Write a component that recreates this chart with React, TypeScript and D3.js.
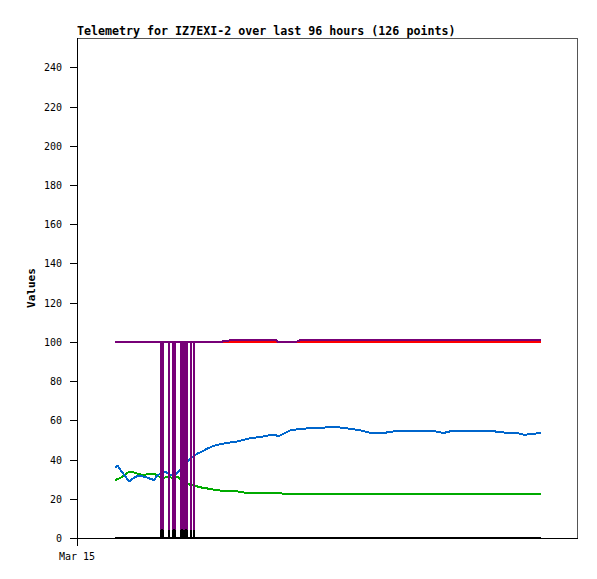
import React from "react";
import * as d3 from "d3";

// time of each telemetry packet, hours since Mar 15 00:00
const hours = [
  7.30, 7.78, 8.26, 8.83, 9.41, 9.98, 10.56, 11.14, 11.71, 12.29, 13.06, 13.63, 14.21, 14.78, 15.36,
  16.13, 16.13, 16.51, 16.51, 17.09, 17.66, 17.66, 17.66, 18.43, 18.43, 18.82, 18.82, 19.39,
  19.97, 19.97, 20.35, 20.35, 20.74, 20.74, 21.12, 21.12, 21.89, 21.89, 21.89, 22.46, 22.46, 22.46,
  23.23, 24.00, 25.15, 26.30, 27.46, 28.61, 29.76, 30.91, 32.26, 33.60, 34.94, 36.29, 37.44, 38.21,
  38.59, 39.55, 40.90, 42.05, 43.01, 44.35, 45.89, 47.23, 48.58, 49.73, 51.07, 52.42, 53.76, 54.91,
  56.06, 57.41, 58.75, 60.10, 61.44, 62.78, 64.13, 65.47, 66.82, 68.16, 69.31, 70.27, 71.23, 72.00,
  73.34, 74.69, 76.03, 77.38, 78.72, 79.87, 80.64, 81.98, 83.33, 84.48, 85.25, 86.02, 86.98, 88.13,
  89.09,
];

const blueValues = [
  36.0, 36.9, 35.0, 33.0, 31.0, 28.8, 30.0, 31.0, 31.7, 31.5, 31.2, 30.6, 30.1, 29.6, 31.5,
  33.3, 33.3, 33.9, 33.9, 33.5, 32.6, 32.6, 32.6, 31.8, 31.8, 31.9, 31.9, 33.5,
  35.5, 35.5, 36.5, 36.5, 37.6, 37.6, 38.6, 38.6, 40.6, 40.6, 40.6, 41.9, 41.9, 41.9,
  43.2, 44.1, 45.8, 47.0, 47.8, 48.4, 48.9, 49.3, 50.2, 51.1, 51.4, 52.0, 52.7, 52.5,
  51.7, 53.1, 54.8, 55.3, 55.7, 55.9, 56.0, 56.2, 56.7, 56.6, 56.2, 55.7, 55.2, 54.6,
  53.8, 53.6, 53.6, 54.0, 54.8, 54.8, 54.8, 54.8, 54.8, 54.8, 54.1, 53.6, 54.0, 54.8,
  54.8, 54.8, 54.8, 54.8, 54.8, 54.8, 54.0, 53.8, 53.7, 53.6, 53.0, 52.6, 53.1, 53.3,
  53.7,
];

const greenValues = [
  29.6, 30.0, 30.5, 31.5, 32.8, 33.6, 33.9, 33.2, 32.7, 32.3, 32.3, 32.6, 32.8, 32.8, 32.0,
  30.7, 30.7, 30.5, 30.5, 31.0, 31.0, 31.0, 31.0, 30.7, 30.7, 31.3, 31.3, 31.0,
  29.6, 29.6, 29.0, 29.0, 28.3, 28.3, 27.8, 27.8, 27.0, 27.0, 27.0, 26.7, 26.7, 26.7,
  26.2, 25.7, 25.2, 24.6, 24.2, 24.2, 24.0, 23.7, 23.1, 23.1, 23.1, 23.1, 23.1, 23.1,
  23.1, 22.6, 22.3, 22.3, 22.3, 22.3, 22.3, 22.3, 22.3, 22.3, 22.3, 22.3, 22.3, 22.3,
  22.3, 22.3, 22.3, 22.3, 22.3, 22.3, 22.3, 22.3, 22.3, 22.3, 22.3, 22.3, 22.3, 22.3,
  22.3, 22.3, 22.3, 22.3, 22.3, 22.3, 22.3, 22.3, 22.3, 22.3, 22.3, 22.3, 22.3, 22.3,
  22.3,
];

const purpleValues = [
  100, 100, 100, 100, 100, 100, 100, 100, 100, 100, 100, 100, 100, 100, 100,
  100, 0, 0, 100, 100, 100, 0, 100, 100, 0, 0, 100, 100,
  100, 0, 0, 100, 100, 0, 0, 100, 100, 0, 100, 100, 0, 100,
  100, 100, 100, 100, 100, 100.5, 101, 101, 101, 101, 101, 101, 101, 101,
  100, 100, 100, 100, 101, 101, 101, 101, 101, 101, 101, 101, 101, 101,
  101, 101, 101, 101, 101, 101, 101, 101, 101, 101, 101, 101, 101, 101,
  101, 101, 101, 101, 101, 101, 101, 101, 101, 101, 101, 101, 101, 101,
  101,
];

const redValues = [
  100, 100, 100, 100, 100, 100, 100, 100, 100, 100, 100, 100, 100, 100, 100,
  100, 100, 100, 100, 100, 100, 100, 100, 100, 100, 100, 100, 100,
  100, 100, 100, 100, 100, 100, 100, 100, 100, 100, 100, 100, 100, 100,
  100, 100, 100, 100, 100, 100, 100, 100, 100, 100, 100, 100, 100, 100,
  100, 100, 100, 100, 100, 100, 100, 100, 100, 100, 100, 100, 100, 100,
  100, 100, 100, 100, 100, 100, 100, 100, 100, 100, 100, 100, 100, 100,
  100, 100, 100, 100, 100, 100, 100, 100, 100, 100, 100, 100, 100, 100,
  100,
];

const blackValues = [
  0, 0, 0, 0, 0, 0, 0, 0, 0, 0, 0, 0, 0, 0, 0,
  0, 4, 4, 0, 0, 0, 4, 0, 0, 4, 4, 0, 0,
  0, 4, 4, 0, 0, 4, 4, 0, 0, 4, 0, 0, 4, 0,
  0, 0, 0, 0, 0, 0, 0, 0, 0, 0, 0, 0, 0, 0,
  0, 0, 0, 0, 0, 0, 0, 0, 0, 0, 0, 0, 0, 0,
  0, 0, 0, 0, 0, 0, 0, 0, 0, 0, 0, 0, 0, 0,
  0, 0, 0, 0, 0, 0, 0, 0, 0, 0, 0, 0, 0, 0,
  0,
];

const yTicks = [0, 20, 40, 60, 80, 100, 120, 140, 160, 180, 200, 220, 240];
const xTickLabel = "Mar 15";
const title = "Telemetry for IZ7EXI-2 over last 96 hours (126 points)";
const yLabel = "Values";

const series = [
  { name: "green", color: "#00aa00", values: greenValues },
  { name: "blue", color: "#0066cc", values: blueValues },
  { name: "red", color: "#ff0000", values: redValues },
  { name: "purple", color: "#770077", values: purpleValues },
  { name: "black", color: "#000000", values: blackValues },
];

export default function App() {
  const W = 597;
  const H = 579;
  const left = 77;
  const right = 577;
  const top = 38;
  const bottom = 538;

  const x = d3.scaleLinear().domain([0, 96]).range([left, right]);
  const y = d3.scaleLinear().domain([0, 255]).range([bottom, top]);

  const line = (vals: number[]) =>
    d3
      .line<number>()
      .x((_, i) => x(hours[i]))
      .y((v) => y(v))(vals) || "";

  const mono = "'DejaVu Sans Mono', 'Liberation Mono', monospace";

  return (
    <svg
      width={W}
      height={H}
      style={{ position: "absolute", left: 0, top: 0, background: "#fff" }}
    >
      <rect x={0} y={0} width={W} height={H} fill="#fff" />
      <text x={left} y={35} fontFamily={mono} fontWeight="bold" fontSize={11.65} fill="#000">
        {title}
      </text>
      {/* frame */}
      <line x1={left} x2={right + 0.5} y1={top + 0.5} y2={top + 0.5} stroke="#555" strokeWidth={1} shapeRendering="crispEdges" />
      <line x1={right + 0.5} x2={right + 0.5} y1={top} y2={bottom + 1} stroke="#555" strokeWidth={1} shapeRendering="crispEdges" />
      {/* series */}
      {series.map((s) => (
        <path
          key={s.name}
          d={line(s.values)}
          fill="none"
          stroke={s.color}
          strokeWidth={2}
          strokeLinejoin="bevel"
          shapeRendering="crispEdges"
        />
      ))}
      {/* axes */}
      <line x1={left + 0.5} x2={left + 0.5} y1={top} y2={bottom + 8} stroke="#000" strokeWidth={1} shapeRendering="crispEdges" />
      <line x1={left - 7} x2={right + 1} y1={y(0) + 0.5} y2={y(0) + 0.5} stroke="#000" strokeWidth={1} shapeRendering="crispEdges" />
      {yTicks.map((t) => (
        <g key={t}>
          <line
            x1={left - 7}
            x2={left}
            y1={Math.round(y(t)) + 0.5}
            y2={Math.round(y(t)) + 0.5}
            stroke="#000"
            strokeWidth={1}
            shapeRendering="crispEdges"
          />
          <text
            x={62}
            y={Math.round(y(t))}
            dy="0.35em"
            textAnchor="end"
            fontFamily={mono}
            fontSize={10}
            fill="#000"
          >
            {t}
          </text>
        </g>
      ))}
      <text x={x(0)} y={560} textAnchor="middle" fontFamily={mono} fontSize={10} fill="#000">
        {xTickLabel}
      </text>
      <text
        transform={`translate(35, ${(top + bottom) / 2}) rotate(-90)`}
        textAnchor="middle"
        fontFamily={mono}
        fontWeight="bold"
        fontSize={11}
        fill="#000"
      >
        {yLabel}
      </text>
    </svg>
  );
}
